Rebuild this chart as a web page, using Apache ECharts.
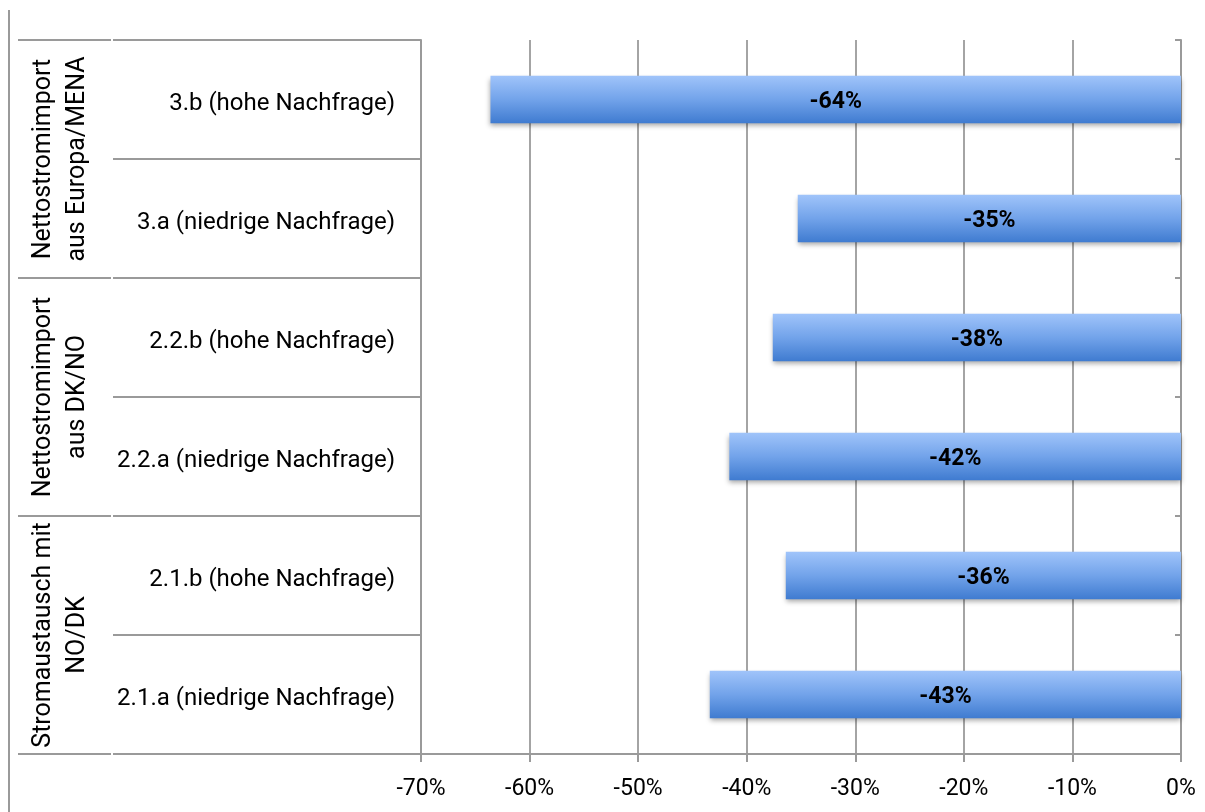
<!DOCTYPE html>
<html>
<head>
<meta charset="utf-8">
<script src="https://cdn.jsdelivr.net/npm/echarts@6/dist/echarts.min.js"></script>
<style>
  html, body { margin: 0; padding: 0; background: #fff; }
  #chart { width: 1205px; height: 812px; }
</style>
</head>
<body>
<div id="chart"></div>
<script>
// bottom to top, as the category axis counts them
const categories = [
  '2.1.a (niedrige Nachfrage)',
  '2.1.b (hohe Nachfrage)',
  '2.2.a (niedrige Nachfrage)',
  '2.2.b (hohe Nachfrage)',
  '3.a (niedrige Nachfrage)',
  '3.b (hohe Nachfrage)'
]
const values = [-43.4, -36.4, -41.6, -37.6, -35.3, -63.6]
const groups = [
  'Stromaustausch mit\nNO/DK',
  'Nettostromimport\naus DK/NO',
  'Nettostromimport\naus Europa/MENA'
]
const xTicks = [-70, -60, -50, -40, -30, -20, -10, 0]

const lineGray = '#9a9a9a'
const font = 'Roboto'

const chart = echarts.init(document.getElementById('chart'))

const options = {
  animation: false,
  backgroundColor: '#fff',
  grid: {
    left: 421,
    right: 24,
    top: 40,
    bottom: 58,
    containLabel: false
  },
  xAxis: {
    type: 'value',
    min: xTicks[0],
    max: xTicks[xTicks.length - 1],
    interval: 10,
    axisLine: { show: true, onZero: false, lineStyle: { color: lineGray, width: 2 } },
    axisTick: { show: true, length: 8, lineStyle: { color: lineGray, width: 2 } },
    splitLine: { show: true, lineStyle: { color: '#868686', width: 1.5 } },
    axisLabel: {
      formatter: '{value}%',
      fontFamily: font,
      fontSize: 23,
      color: '#000',
      margin: 24
    }
  },
  yAxis: [
    {
      type: 'category',
      data: categories,
      position: 'left',
      axisLine: { show: true, onZero: false, lineStyle: { color: lineGray, width: 2 } },
      axisTick: { show: true, interval: 0, length: 308, lineStyle: { color: lineGray, width: 2 } },
      axisLabel: {
        interval: 0,
        margin: 26,
        formatter: (v) => '{t|' + v + '}',
        rich: {
          t: {
            fontFamily: font,
            fontSize: 24,
            color: '#000',
            padding: [9, 0, 0, 0]
          }
        }
      }
    },
    {
      type: 'category',
      data: groups,
      position: 'left',
      offset: 310,
      axisLine: { show: false, onZero: false },
      axisTick: { show: true, interval: 0, length: 93, lineStyle: { color: lineGray, width: 2 } },
      axisLabel: {
        interval: 0,
        rotate: 90,
        align: 'center',
        verticalAlign: 'middle',
        fontFamily: font,
        fontSize: 25,
        lineHeight: 34,
        color: '#000',
        margin: 50
      }
    },
    {
      type: 'category',
      data: categories,
      position: 'right',
      axisLine: { show: true, onZero: false, lineStyle: { color: lineGray, width: 2 } },
      axisTick: { show: true, interval: 0, inside: true, length: 6, lineStyle: { color: lineGray, width: 2 } },
      axisLabel: { show: false }
    }
  ],
  graphic: [
    {
      type: 'line',
      shape: { x1: 9, y1: 10, x2: 9, y2: 812 },
      style: { stroke: lineGray, lineWidth: 2 }
    }
  ],
  series: [
    {
      type: 'bar',
      yAxisIndex: 0,
      data: values,
      barWidth: '40%',
      itemStyle: {
        color: new echarts.graphic.LinearGradient(0, 0, 0, 1, [
          { offset: 0, color: '#a0c4fa' },
          { offset: 0.5, color: '#72a3ea' },
          { offset: 1, color: '#3f7bd0' }
        ]),
        shadowColor: 'rgba(0,0,0,0.35)',
        shadowBlur: 5,
        shadowOffsetY: 3
      },
      label: {
        show: true,
        position: 'inside',
        offset: [0, 3],
        formatter: (p) => Math.round(p.value) + '%',
        fontFamily: font,
        fontWeight: 'bold',
        fontSize: 23,
        color: '#000'
      }
    }
  ]
}

chart.setOption(options)
</script>
</body>
</html>
